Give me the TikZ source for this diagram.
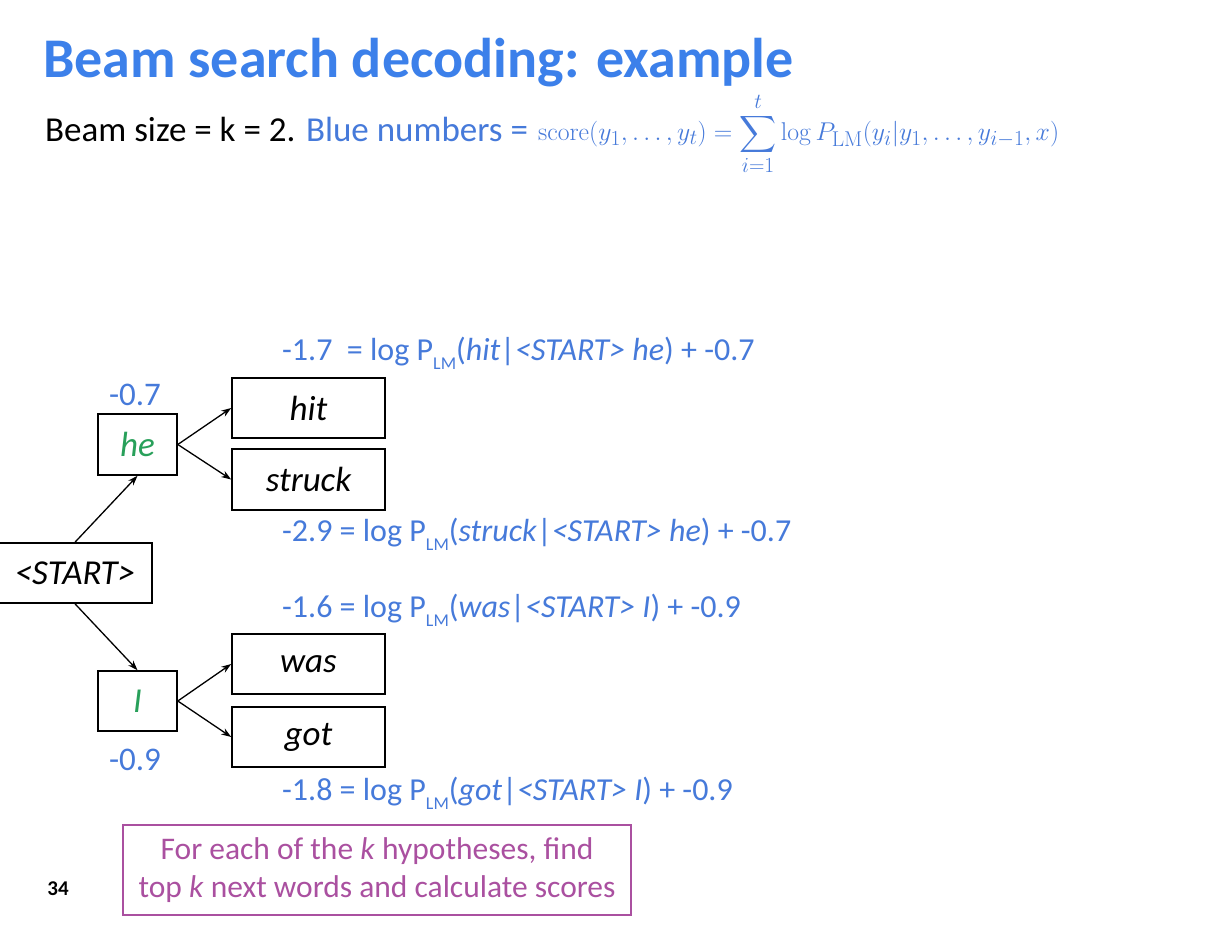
\documentclass[tikz,border=0pt]{standalone}
\usepackage{amsmath}
\usepackage[no-math]{fontspec}
\setmainfont{Carlito}
\usetikzlibrary{arrows.meta}
\definecolor{titleblue}{RGB}{60,128,234}
\definecolor{lblblue}{RGB}{70,122,218}
\definecolor{hgreen}{RGB}{40,160,90}
\definecolor{purp}{RGB}{170,80,160}
\newcommand{\LMsub}{\raisebox{-0.28em}{\fontsize{18}{20}\selectfont LM}}
\begin{document}
\begin{tikzpicture}[x=1pt,y=-1pt,
  wbox/.style={draw=black,line width=1.6pt,inner sep=0pt,font=\fontsize{35}{40}\selectfont\itshape},
  conn/.style={line width=1.3pt,-{Stealth[length=10pt,width=7pt]}},
  score/.style={anchor=west,inner sep=0pt,text=lblblue,font=\fontsize{32}{38}\selectfont}]
\useasboundingbox[fill=white] (0,0) rectangle (1222,928);
% title
\node[anchor=base west,inner sep=0pt,text depth=0pt,text=titleblue,font=\fontsize{56}{62}\selectfont\bfseries] (title) at (43,78) {Beam search decoding: example};
\node[anchor=west,inner sep=0pt,font=\fontsize{35}{40}\selectfont] (sub) at (45,129) {Beam size = k = 2. \textcolor{lblblue}{Blue numbers =}};
\node[anchor=west,inner sep=0pt,text=lblblue,font=\fontsize{24.88}{28}\selectfont] (formula) at (538,134) {\scalebox{1.033}{$\displaystyle \mathrm{score}(y_1,\ldots,y_t)=\sum_{i=1}^{t}\log P_{\mathrm{LM}}(y_i|y_1,\ldots,y_{i-1},x)$}};
% boxes
\node[wbox,minimum width=154pt,minimum height=60pt] (start) at (75,573) {<START>};
\node[wbox,minimum width=79pt,minimum height=61pt,text=hgreen] (he) at (137.5,444.5) {he};
\node[wbox,minimum width=79pt,minimum height=60pt,text=hgreen] (I) at (137.5,701) {I};
\node[wbox,minimum width=153pt,minimum height=60pt] (hit) at (308.5,408) {hit};
\node[wbox,minimum width=153pt,minimum height=61pt] (struck) at (308.5,479.5) {struck};
\node[wbox,minimum width=153pt,minimum height=60pt] (was) at (308.5,664) {was};
\node[wbox,minimum width=153pt,minimum height=60pt] (got) at (308.5,737) {got};
% connectors
\draw[conn] (start.north) -- (he.south);
\draw[conn] (start.south) -- (I.north);
\draw[conn] (he.east) -- (hit.west);
\draw[conn] (he.east) -- (struck.west);
\draw[conn] (I.east) -- (was.west);
\draw[conn] (I.east) -- (got.west);
% scores
\node[text=lblblue,font=\fontsize{33}{38}\selectfont,inner sep=0pt] (she) at (135,395) {-0.7};
\node[text=lblblue,font=\fontsize{33}{38}\selectfont,inner sep=0pt] (sI) at (135,760) {-0.9};
\node[score] (lhit) at (282,353) {-1.7\ \ = log P\LMsub(\textit{hit}|\textit{<START> he}) + -0.7};
\node[score] (lstruck) at (282,534) {-2.9 = log P\LMsub(\textit{struck}|\textit{<START> he}) + -0.7};
\node[score] (lwas) at (282,610) {-1.6 = log P\LMsub(\textit{was}|\textit{<START> I}) + -0.9};
\node[score] (lgot) at (282,793) {-1.8 = log P\LMsub(\textit{got}|\textit{<START> I}) + -0.9};
% note
\node[draw=purp,line width=1.5pt,minimum width=508pt,minimum height=90pt,align=center,text=purp,font=\fontsize{31.5}{38}\selectfont] (note) at (377,870) {For each of the \textit{k} hypotheses, find\\top \textit{k} next words and calculate scores};
\node[font=\fontsize{21}{26}\selectfont\bfseries,inner sep=0pt] (pg) at (58,889) {34};
\end{tikzpicture}
\end{document}
